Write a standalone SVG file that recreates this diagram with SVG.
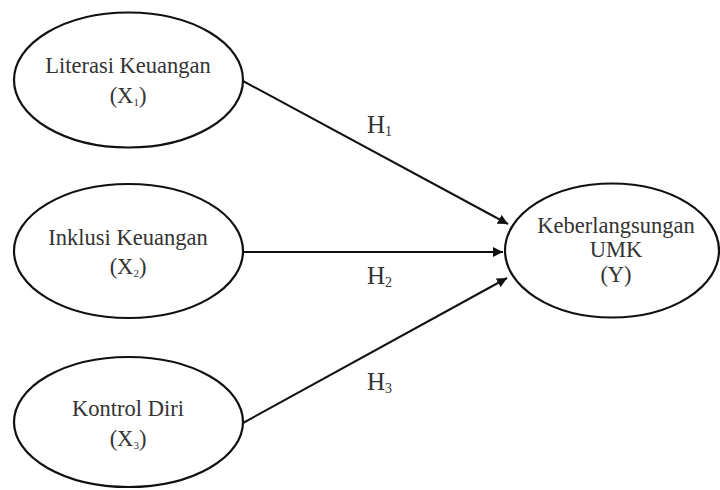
<svg xmlns="http://www.w3.org/2000/svg" width="720" height="490" viewBox="0 0 720 490">
<style>
.node ellipse{fill:#fff;stroke:#111;stroke-width:2.2}
.lbl{font-family:"Liberation Serif","Times New Roman",serif;font-size:22.5px;fill:#333;text-anchor:middle}
.sub{font-size:11px}
.h{font-family:"Liberation Serif","Times New Roman",serif;font-size:25px;fill:#333}
.hs{font-size:14px}
.edge{stroke:#111;stroke-width:2;fill:none;marker-end:url(#ah)}
</style>
<defs>
<marker id="ah" viewBox="0 0 10 10" refX="10" refY="5" markerWidth="5" markerHeight="5" orient="auto" markerUnits="strokeWidth">
<path d="M0,0 L10,5 L0,10 z" fill="#111"/>
</marker>
</defs>
<rect width="720" height="490" fill="#fff"/>
<g id="connectors">
<line class="edge" x1="243" y1="81" x2="508" y2="224"/>
<line class="edge" x1="243" y1="252" x2="503" y2="252"/>
<line class="edge" x1="243" y1="423" x2="507" y2="278"/>
</g>
<g id="node-x1" class="node">
<ellipse cx="128.5" cy="80" rx="114.5" ry="67.5"/>
<text class="lbl" x="128" y="73">Literasi Keuangan</text>
<text class="lbl" x="128" y="103">(X<tspan class="sub" dy="3">1</tspan><tspan dy="-3">)</tspan></text>
</g>
<g id="node-x2" class="node">
<ellipse cx="128.5" cy="251" rx="114.5" ry="67"/>
<text class="lbl" x="128" y="245">Inklusi Keuangan</text>
<text class="lbl" x="128" y="274">(X<tspan class="sub" dy="3">2</tspan><tspan dy="-3">)</tspan></text>
</g>
<g id="node-x3" class="node">
<ellipse cx="128.5" cy="422" rx="114.5" ry="65"/>
<text class="lbl" x="128" y="416">Kontrol Diri</text>
<text class="lbl" x="128" y="446">(X<tspan class="sub" dy="3">3</tspan><tspan dy="-3">)</tspan></text>
</g>
<g id="node-y" class="node">
<ellipse cx="612" cy="250.5" rx="107" ry="67"/>
<text class="lbl" x="616" y="233">Keberlangsungan</text>
<text class="lbl" x="616" y="257">UMK</text>
<text class="lbl" x="616" y="282">(Y)</text>
</g>
<g id="labels">
<text class="h" x="367" y="133">H<tspan class="hs" dy="3">1</tspan></text>
<text class="h" x="367" y="284">H<tspan class="hs" dy="3">2</tspan></text>
<text class="h" x="367" y="390">H<tspan class="hs" dy="3">3</tspan></text>
</g>
</svg>
